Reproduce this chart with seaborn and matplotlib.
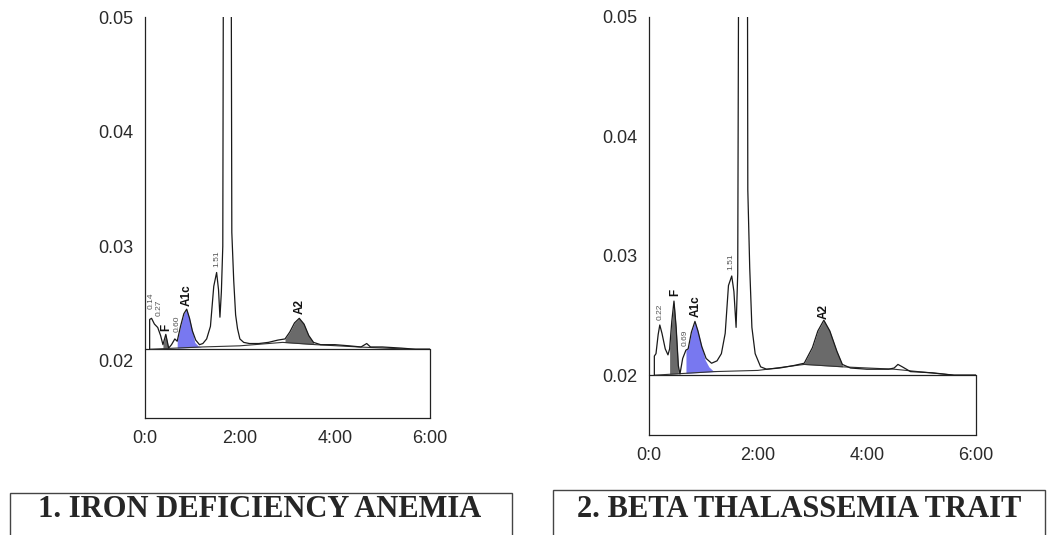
import numpy as np
import matplotlib
matplotlib.use("Agg")
import matplotlib.pyplot as plt
import seaborn as sns
from matplotlib.patches import Rectangle

# --- data (time in minutes, absorbance) ---
ida_time = [0.10, 0.10, 0.14, 0.20, 0.27, 0.33, 0.38, 0.44, 0.50, 0.56, 0.63, 0.68,
            0.75, 0.82, 0.88, 0.94, 1.00, 1.07, 1.15, 1.22, 1.30, 1.38, 1.45, 1.51,
            1.55, 1.58, 1.61, 1.64, 1.66, 1.72, 1.80, 1.82, 1.83, 1.87, 1.91, 1.95,
            2.00, 2.08, 2.20, 2.40, 2.60, 2.80, 2.95, 3.05, 3.15, 3.25, 3.35, 3.45,
            3.55, 3.70, 4.00, 4.30, 4.55, 4.67, 4.75, 5.00, 5.40, 5.70, 6.00]
ida_abs = [0.0210, 0.0236, 0.0237, 0.0232, 0.0229, 0.0222, 0.0214, 0.0223, 0.0211, 0.0214, 0.0219, 0.0217,
           0.0230, 0.0241, 0.0245, 0.0237, 0.0226, 0.0218, 0.0214, 0.0215, 0.0219, 0.0230, 0.0265, 0.0277,
           0.0262, 0.0238, 0.0260, 0.0300, 0.0700, 0.0900, 0.0700, 0.0500, 0.0312, 0.0270, 0.0240, 0.0228,
           0.0219, 0.0216, 0.0215, 0.0215, 0.0216, 0.0218, 0.0219, 0.0225, 0.0233, 0.0237, 0.0232, 0.0222,
           0.0216, 0.0214, 0.0214, 0.0213, 0.0212, 0.0215, 0.0212, 0.0212, 0.0211, 0.0210, 0.0210]
ida_base_t = [0.10, 1.20, 2.00, 2.90, 3.60, 4.50, 5.60, 6.00]
ida_base_y = [0.0210, 0.0212, 0.0213, 0.0216, 0.0214, 0.0212, 0.0210, 0.0210]
# tail of A1c skimmed under the merged trace
ida_skim_t = [1.05, 1.12, 1.19]
ida_skim_y = [0.0216, 0.0213, 0.0212]

btt_time = [0.10, 0.10, 0.13, 0.17, 0.20, 0.24, 0.30, 0.35, 0.38, 0.42, 0.46, 0.50,
            0.54, 0.57, 0.62, 0.68, 0.72, 0.78, 0.845, 0.90, 0.97, 1.05, 1.15, 1.25,
            1.33, 1.40, 1.46, 1.52, 1.56, 1.60, 1.63, 1.65, 1.72, 1.79, 1.81, 1.815,
            1.85, 1.89, 1.95, 2.05, 2.16, 2.40, 2.65, 2.85, 3.00, 3.10, 3.21, 3.32,
            3.45, 3.55, 3.70, 4.00, 4.40, 4.50, 4.57, 4.65, 4.80, 5.20, 5.60, 6.00]
btt_abs = [0.0200, 0.0216, 0.0218, 0.0234, 0.0242, 0.0235, 0.0222, 0.0217, 0.0222, 0.0245, 0.0262, 0.0240,
           0.0208, 0.0201, 0.0214, 0.0221, 0.0222, 0.0236, 0.0245, 0.0237, 0.0224, 0.0214, 0.0210, 0.0212,
           0.0218, 0.0235, 0.0275, 0.0283, 0.0270, 0.0240, 0.0285, 0.0600, 0.0900, 0.0600, 0.0500, 0.0355,
           0.0290, 0.0240, 0.0218, 0.0207, 0.0205, 0.0206, 0.0208, 0.0210, 0.0223, 0.0237, 0.0246, 0.0237,
           0.0220, 0.0209, 0.0206, 0.0205, 0.0205, 0.0206, 0.0209, 0.0207, 0.0203, 0.0202, 0.0200, 0.0200]
btt_base_t = [0.10, 1.20, 2.00, 2.85, 3.55, 4.50, 5.60, 6.00]
btt_base_y = [0.0200, 0.0203, 0.0204, 0.0209, 0.0207, 0.0205, 0.0200, 0.0200]
btt_skim_t = [1.03, 1.10, 1.17, 1.24]
btt_skim_y = [0.0213, 0.0207, 0.0204, 0.0203]

base_level = [0.0210, 0.0200]

# shaded (integrated) peaks: (start, end, kind)
ida_fills = [(0.38, 0.50, "gray"), (0.68, 1.00, "blue"), (2.95, 3.55, "gray")]
btt_fills = [(0.38, 0.54, "gray"), (0.68, 0.97, "blue"), (2.85, 3.55, "gray")]

# peak labels: text, retention time, label height, bold?
ida_labels = [("0.14", 0.13, 0.0252, False), ("0.27", 0.29, 0.0246, False),
              ("F", 0.44, 0.0229, True), ("0.60", 0.67, 0.0232, False),
              ("A1c", 0.89, 0.0257, True), ("1.51", 1.51, 0.0289, False),
              ("A2", 3.25, 0.0247, True)]
btt_labels = [("0.22", 0.20, 0.0253, False), ("F", 0.48, 0.0269, True),
              ("0.69", 0.66, 0.0231, False), ("A1c", 0.86, 0.0258, True),
              ("1.51", 1.50, 0.0295, False), ("A2", 3.21, 0.0253, True)]

x_ticks = [0, 2, 4, 6]
x_ticklabels = ["0:0", "2:00", "4:00", "6:00"]
y_ticks = [0.02, 0.03, 0.04, 0.05]
y_ticklabels = ["0.02", "0.03", "0.04", "0.05"]

titles = ["1. IRON DEFICIENCY ANEMIA", "2. BETA THALASSEMIA TRAIT"]

sns.set_style("white")
plt.rcParams["font.family"] = ["Liberation Sans", "DejaVu Sans"]

fill_colors = {"gray": "#6a6a6a", "blue": "#7878f0"}

fig = plt.figure(figsize=(10.5, 5.35), dpi=100)
ax1 = fig.add_axes([0.138, 0.2187, 0.2714, 0.7495])
ax2 = fig.add_axes([0.618, 0.187, 0.3114, 0.782])


def draw_panel(ax, t, a, bt, by, st, sy, base, fills, labels):
    t = np.array(t)
    a = np.array(a)
    # rectangle under the trace
    ax.plot([0, 6], [base, base], color="#222222", lw=0.9, clip_on=False)
    ax.plot([6, 6], [0.015, base], color="#222222", lw=0.9, clip_on=False)
    for start, end, kind in fills:
        m = (t >= start) & (t <= end)
        tt, aa = t[m], a[m]
        if kind == "blue":
            # A1c area continues along the skimmed tail
            tt = np.concatenate([tt, st])
            aa = np.concatenate([aa, sy])
        low = np.interp(tt, bt, by)
        ax.fill_between(tt, low, aa, color=fill_colors[kind], lw=0)
    # integration baseline
    ax.plot(bt, by, color="#333333", lw=0.8)
    sns.lineplot(x=t, y=a, ax=ax, estimator=None, sort=False, color="#1a1a1a", lw=0.9)
    for txt, xt, yt, bold in labels:
        ax.text(xt, yt, txt, rotation=90, ha="center", va="center",
                fontsize=8.5 if bold else 6,
                fontweight="bold" if bold else "normal",
                color="#111111" if bold else "#555555")
    ax.set_xlim(0, 6)
    ax.set_ylim(0.015, 0.05)
    ax.set_xticks(x_ticks)
    ax.set_xticklabels(x_ticklabels)
    ax.set_yticks(y_ticks)
    ax.set_yticklabels(y_ticklabels)
    ax.set_yticks([0.015, 0.025, 0.035, 0.045], minor=True)
    ax.tick_params(axis="both", which="major", direction="inout", length=5, width=0.9,
                   labelsize=13, labelcolor="#2a2a2a", color="#222222", pad=6)
    ax.tick_params(axis="y", which="minor", direction="inout", length=4, width=0.9, color="#222222")
    ax.set_xlabel("")
    ax.set_ylabel("")
    for s in ["top", "right"]:
        ax.spines[s].set_visible(False)
    for s in ["left", "bottom"]:
        ax.spines[s].set_color("#222222")
        ax.spines[s].set_linewidth(0.9)
    ax.set_facecolor("white")


draw_panel(ax1, ida_time, ida_abs, ida_base_t, ida_base_y, ida_skim_t, ida_skim_y,
           base_level[0], ida_fills, ida_labels)
draw_panel(ax2, btt_time, btt_abs, btt_base_t, btt_base_y, btt_skim_t, btt_skim_y,
           base_level[1], btt_fills, btt_labels)

# title boxes below the panels
fig.add_artist(Rectangle((0.0095, -0.05), 0.478, 0.1285, transform=fig.transFigure,
                         fill=False, edgecolor="#444444", lw=1.0))
fig.add_artist(Rectangle((0.5267, -0.05), 0.4683, 0.1341, transform=fig.transFigure,
                         fill=False, edgecolor="#444444", lw=1.0))
fig.text(0.2475, 0.047, titles[0], ha="center", va="center", fontsize=22,
         fontweight="bold", family=["Liberation Serif", "DejaVu Serif"])
fig.text(0.761, 0.047, titles[1], ha="center", va="center", fontsize=22,
         fontweight="bold", family=["Liberation Serif", "DejaVu Serif"])

fig.savefig("out.png", dpi=100)
